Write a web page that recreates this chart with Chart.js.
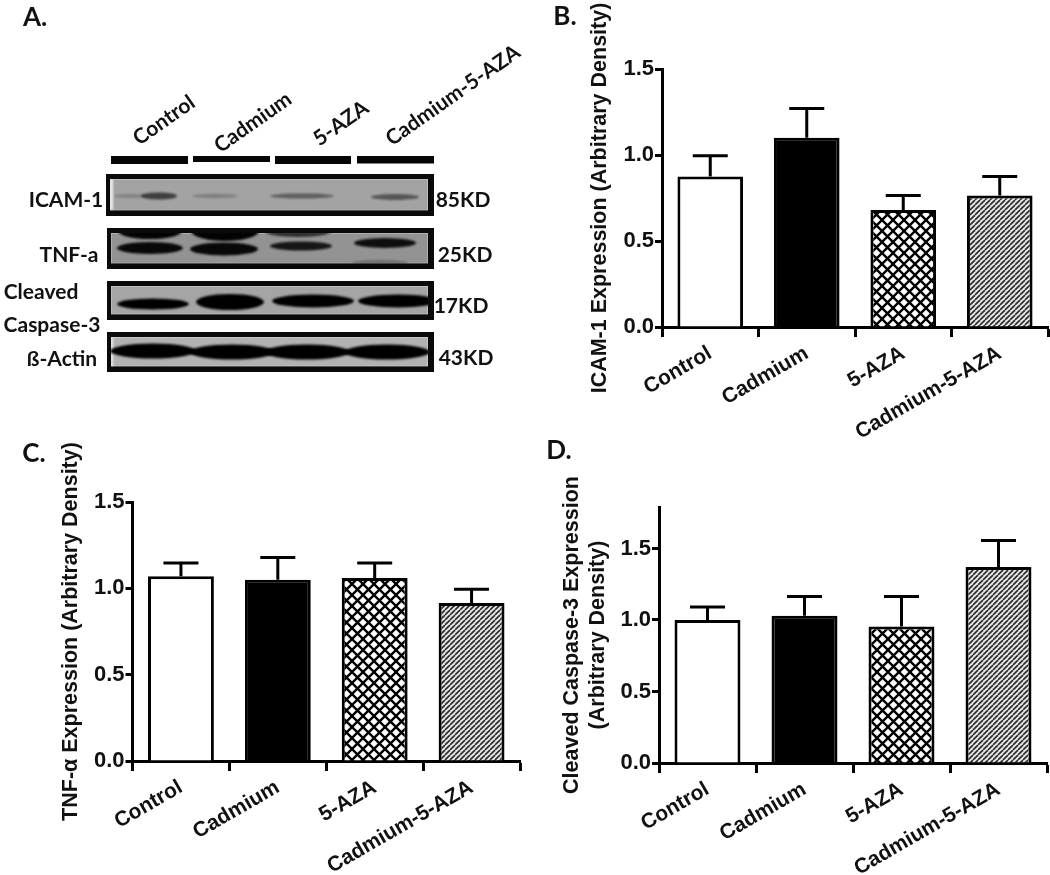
<!DOCTYPE html>
<html>
<head>
<meta charset="utf-8">
<title>Western blot and densitometry</title>
<script src="https://cdn.jsdelivr.net/npm/chart.js@4"></script>
<style>
    html, body { margin: 0; padding: 0; background: #fff; }
    #page { position: relative; width: 1050px; height: 875px; overflow: hidden; }
    #page canvas { position: absolute; }
    #blot { filter: blur(0.5px); }
    .label {
        position: absolute;
        font-family: Lato, "Open Sans", sans-serif;
        font-weight: 700;
        color: #111;
        white-space: nowrap;
        line-height: 1;
    }
</style>
</head>
<body>
<div id="page">
    <canvas id="blot" width="1050" height="875" style="left:0;top:0"></canvas>
    <canvas id="chart_b" style="left:585px;top:0"></canvas>
    <canvas id="chart_c" style="left:55px;top:430px"></canvas>
    <canvas id="chart_d" style="left:558px;top:430px"></canvas>
</div>
<script>
// Chart data
const categories = ["Control", "Cadmium", "5-AZA", "Cadmium-5-AZA"];
const y_ticks = [0, 0.5, 1.0, 1.5];

const icam_values = [0.875, 1.10, 0.68, 0.765];
const icam_error_tops = [0.995, 1.27, 0.765, 0.875];

const tnf_values = [1.07, 1.05, 1.06, 0.915];
const tnf_error_tops = [1.147, 1.178, 1.147, 0.995];

const caspase_values = [1.0, 1.03, 0.955, 1.37];
const caspase_error_tops = [1.09, 1.165, 1.165, 1.555];

// Blot labels
const lane_labels = ["Control", "Cadmium", "5-AZA", "Cadmium-5-AZA"];
const protein_labels = ["ICAM-1", "TNF-a", "Cleaved", "Caspase-3", "ß-Actin"];
const weight_labels = ["85KD", "25KD", "17KD", "43KD"];
const panel_letters = ["A.", "B.", "C.", "D."];

const AXIS_FONT = '"Liberation Sans", Arial, sans-serif';

// Repeating fills for the two hatched bars
function makeCrossHatch() {
    const size = 11;
    const tile = document.createElement("canvas");
    tile.width = size;
    tile.height = size;
    const ctx = tile.getContext("2d");
    ctx.fillStyle = "#fff";
    ctx.fillRect(0, 0, size, size);
    ctx.strokeStyle = "#000";
    ctx.lineWidth = 2.4;
    for (const offset of [-size, 0, size]) {
        ctx.beginPath();
        ctx.moveTo(offset, 0);
        ctx.lineTo(offset + size, size);
        ctx.moveTo(offset, size);
        ctx.lineTo(offset + size, 0);
        ctx.stroke();
    }
    return ctx.createPattern(tile, "repeat");
}

function makeDiagonalHatch() {
    const size = 5;
    const tile = document.createElement("canvas");
    tile.width = size;
    tile.height = size;
    const ctx = tile.getContext("2d");
    ctx.fillStyle = "#e8e8e8";
    ctx.fillRect(0, 0, size, size);
    ctx.strokeStyle = "#2a2a2a";
    ctx.lineWidth = 1.6;
    for (const offset of [-size, 0, size]) {
        ctx.beginPath();
        ctx.moveTo(offset, size);
        ctx.lineTo(offset + size, 0);
        ctx.stroke();
    }
    return ctx.createPattern(tile, "repeat");
}

// Upper error bars, placed through the chart's own scales
const errorBarPlugin = {
    id: "errorBarPlugin",
    afterDatasetsDraw(chart) {
        const { ctx, scales } = chart;
        const dataset = chart.data.datasets[0];
        ctx.save();
        ctx.strokeStyle = "#000";
        ctx.lineWidth = 3;
        dataset.errorTops.forEach((top, index) => {
            const x = scales.x.getPixelForValue(index);
            const y_bar = scales.y.getPixelForValue(dataset.data[index]);
            const y_top = scales.y.getPixelForValue(top);
            ctx.beginPath();
            ctx.moveTo(x, y_bar);
            ctx.lineTo(x, y_top);
            ctx.moveTo(x - 17.5, y_top);
            ctx.lineTo(x + 17.5, y_top);
            ctx.stroke();
        });
        ctx.restore();
    },
};

function createPanel(canvas_id, box, values, error_tops, title, y_max, bar_fills) {
    const canvas = document.getElementById(canvas_id);
    const width = box.canvasRight - box.canvasLeft;
    const height = box.canvasBottom - box.canvasTop;
    canvas.width = width;
    canvas.height = height;

    return new Chart(canvas.getContext("2d"), {
        type: "bar",
        data: {
            labels: categories,
            datasets: [
                {
                    data: values,
                    errorTops: error_tops,
                    backgroundColor: bar_fills,
                    borderColor: "#000",
                    borderWidth: 3,
                    borderSkipped: "bottom",
                    barPercentage: 0.68,
                    categoryPercentage: 1,
                },
            ],
        },
        options: {
            responsive: false,
            animation: false,
            devicePixelRatio: 1,
            layout: {
                padding: {
                    top: box.top - box.canvasTop,
                    right: box.canvasRight - box.right,
                    left: 0,
                    bottom: 0,
                },
            },
            plugins: { legend: { display: false }, tooltip: { enabled: false } },
            scales: {
                x: {
                    border: { color: "#000", width: 3 },
                    grid: { drawOnChartArea: false, tickLength: 10, tickWidth: 3, tickColor: "#000" },
                    ticks: {
                        color: "#111",
                        font: { family: AXIS_FONT, size: 21, weight: "bold" },
                        minRotation: 30,
                        maxRotation: 30,
                        autoSkip: false,
                        padding: 4,
                    },
                    afterFit(scale) {
                        scale.height = box.canvasBottom - box.bottom;
                        scale.paddingLeft = 0;
                        scale.paddingRight = 0;
                    },
                },
                y: {
                    min: 0,
                    max: y_max,
                    border: { color: "#000", width: 3 },
                    grid: { drawOnChartArea: false, tickLength: 7, tickWidth: 3, tickColor: "#000" },
                    ticks: {
                        color: "#111",
                        font: { family: AXIS_FONT, size: 22, weight: "bold" },
                        padding: 1,
                        callback: (value) => value.toFixed(1),
                    },
                    afterBuildTicks(scale) {
                        scale.ticks = y_ticks.map((value) => ({ value }));
                    },
                    title: {
                        display: true,
                        text: title,
                        color: "#111",
                        font: { family: AXIS_FONT, size: 21.5, weight: "bold" },
                        padding: { top: box.titlePad, bottom: 0 },
                    },
                    afterFit(scale) {
                        scale.width = box.left - box.canvasLeft;
                        scale.paddingTop = 0;
                        scale.paddingBottom = 0;
                    },
                },
            },
        },
        plugins: [errorBarPlugin],
    });
}

// Panel A: the blot itself is a photograph, painted by hand on a plain canvas
function band(ctx, cx, cy, rx, ry, alpha) {
    ctx.fillStyle = `rgba(0,0,0,${alpha})`;
    ctx.beginPath();
    ctx.ellipse(cx, cy, rx, ry, 0, 0, Math.PI * 2);
    ctx.fill();
}

function frame(ctx, x0, y0, x1, y1, grey, paintBands) {
    ctx.fillStyle = "#0a0a0a";
    ctx.fillRect(x0, y0, x1 - x0, y1 - y0);
    const ix = x0 + 4, iy = y0 + 5, iw = x1 - x0 - 10, ih = y1 - y0 - 10.5;
    ctx.save();
    ctx.beginPath();
    ctx.rect(ix, iy, iw, ih);
    ctx.clip();
    ctx.fillStyle = grey;
    ctx.fillRect(ix, iy, iw, ih);
    ctx.strokeStyle = "rgba(255,255,255,0.35)";
    ctx.lineWidth = 1.5;
    ctx.strokeRect(ix, iy, iw, ih);
    ctx.filter = "blur(1.2px)";
    paintBands(ctx);
    ctx.restore();
}

function drawBlot() {
    const ctx = document.getElementById("blot").getContext("2d");
    ctx.fillStyle = "#050505";
    ctx.fillRect(111, 156, 77, 8);
    ctx.fillRect(193, 156, 77, 6);
    ctx.fillRect(275, 156, 76, 8);
    ctx.fillRect(357, 156, 77, 7.5);

    frame(ctx, 106, 174, 434, 216, "#a3a3a3", (c) => {
        c.fillStyle = "rgba(255,255,255,0.85)";
        c.fillRect(110, 179, 3, 31);
        band(c, 130, 196, 16, 2, 0.2);
        band(c, 159, 196, 18, 3.4, 0.62);
        band(c, 215, 196, 23, 2.2, 0.22);
        band(c, 302, 196, 32, 2.6, 0.42);
        band(c, 395, 197, 24, 3, 0.48);
    });
    frame(ctx, 107, 228, 434, 269, "#939393", (c) => {
        band(c, 150, 231, 32, 8, 0.98);
        band(c, 225, 231, 34, 10, 0.98);
        band(c, 298, 231, 34, 6, 0.7);
        band(c, 150, 248, 33, 6, 0.95);
        band(c, 224, 249, 34, 6.5, 0.95);
        band(c, 301, 246, 31, 4.5, 0.85);
        band(c, 385, 243, 31, 5, 0.9);
        band(c, 380, 263, 28, 3, 0.25);
    });
    frame(ctx, 107, 281, 434, 320, "#a5a5a5", (c) => {
        band(c, 153, 304, 36, 5.5, 1);
        band(c, 230, 302, 34, 8, 1);
        band(c, 313, 301, 41, 6.5, 1);
        band(c, 398, 301, 40, 6.5, 1);
    });
    frame(ctx, 107, 332, 434, 372, "#b2b2b2", (c) => {
        c.fillStyle = "rgba(255,255,255,0.8)";
        c.fillRect(111, 337, 2, 30);
        band(c, 153, 351, 43, 7.5, 1);
        band(c, 232, 352, 43, 7.5, 1);
        band(c, 307, 352, 43, 7.5, 1);
        band(c, 387, 352, 43, 7.5, 1);
    });
}

function addLabel(text, cx, cy, size, rotation) {
    const el = document.createElement("div");
    el.className = "label";
    el.textContent = text;
    el.style.left = cx + "px";
    el.style.top = cy + "px";
    el.style.fontSize = size + "px";
    el.style.transform = `translate(-50%,-50%) rotate(${rotation || 0}deg)`;
    document.getElementById("page").appendChild(el);
}

function addBlotLabels() {
    const lane_centres = [[163, 119], [252, 121], [340, 122], [452, 94]];
    lane_labels.forEach((text, i) => addLabel(text, lane_centres[i][0], lane_centres[i][1], 21, -35));

    const protein_centres = [[66, 198], [69, 253], [41, 290], [52, 323], [62, 357]];
    protein_labels.forEach((text, i) => addLabel(text, protein_centres[i][0], protein_centres[i][1], 21));

    const weight_centres = [[463, 198], [465, 253], [461, 304], [466, 356]];
    weight_labels.forEach((text, i) => addLabel(text, weight_centres[i][0], weight_centres[i][1], 21));

    const letter_centres = [[35, 16], [565, 15], [34, 452], [559, 449]];
    panel_letters.forEach((text, i) => addLabel(text, letter_centres[i][0], letter_centres[i][1], 26));
}

drawBlot();
addBlotLabels();

const cross_hatch = makeCrossHatch();
const diagonal_hatch = makeDiagonalHatch();
const bar_fills = ["#fff", "#000", cross_hatch, diagonal_hatch];

createPanel(
    "chart_b",
    { canvasLeft: 585, canvasRight: 1050, canvasTop: 0, canvasBottom: 445, left: 662, right: 1048, top: 69, bottom: 327, titlePad: 2.5 },
    icam_values, icam_error_tops, "ICAM-1 Expression (Arbitrary Density)", 1.5, bar_fills,
);
createPanel(
    "chart_c",
    { canvasLeft: 55, canvasRight: 525, canvasTop: 430, canvasBottom: 875, left: 132.5, right: 520, top: 502, bottom: 761, titlePad: 3.5 },
    tnf_values, tnf_error_tops, "TNF-α Expression (Arbitrary Density)", 1.5, bar_fills,
);
createPanel(
    "chart_d",
    { canvasLeft: 558, canvasRight: 1050, canvasTop: 430, canvasBottom: 875, left: 659, right: 1047, top: 507, bottom: 763, titlePad: 1.5 },
    caspase_values, caspase_error_tops, ["Cleaved Caspase-3 Expression", "(Arbitrary Density)"], 1.79, bar_fills,
);
</script>
</body>
</html>
